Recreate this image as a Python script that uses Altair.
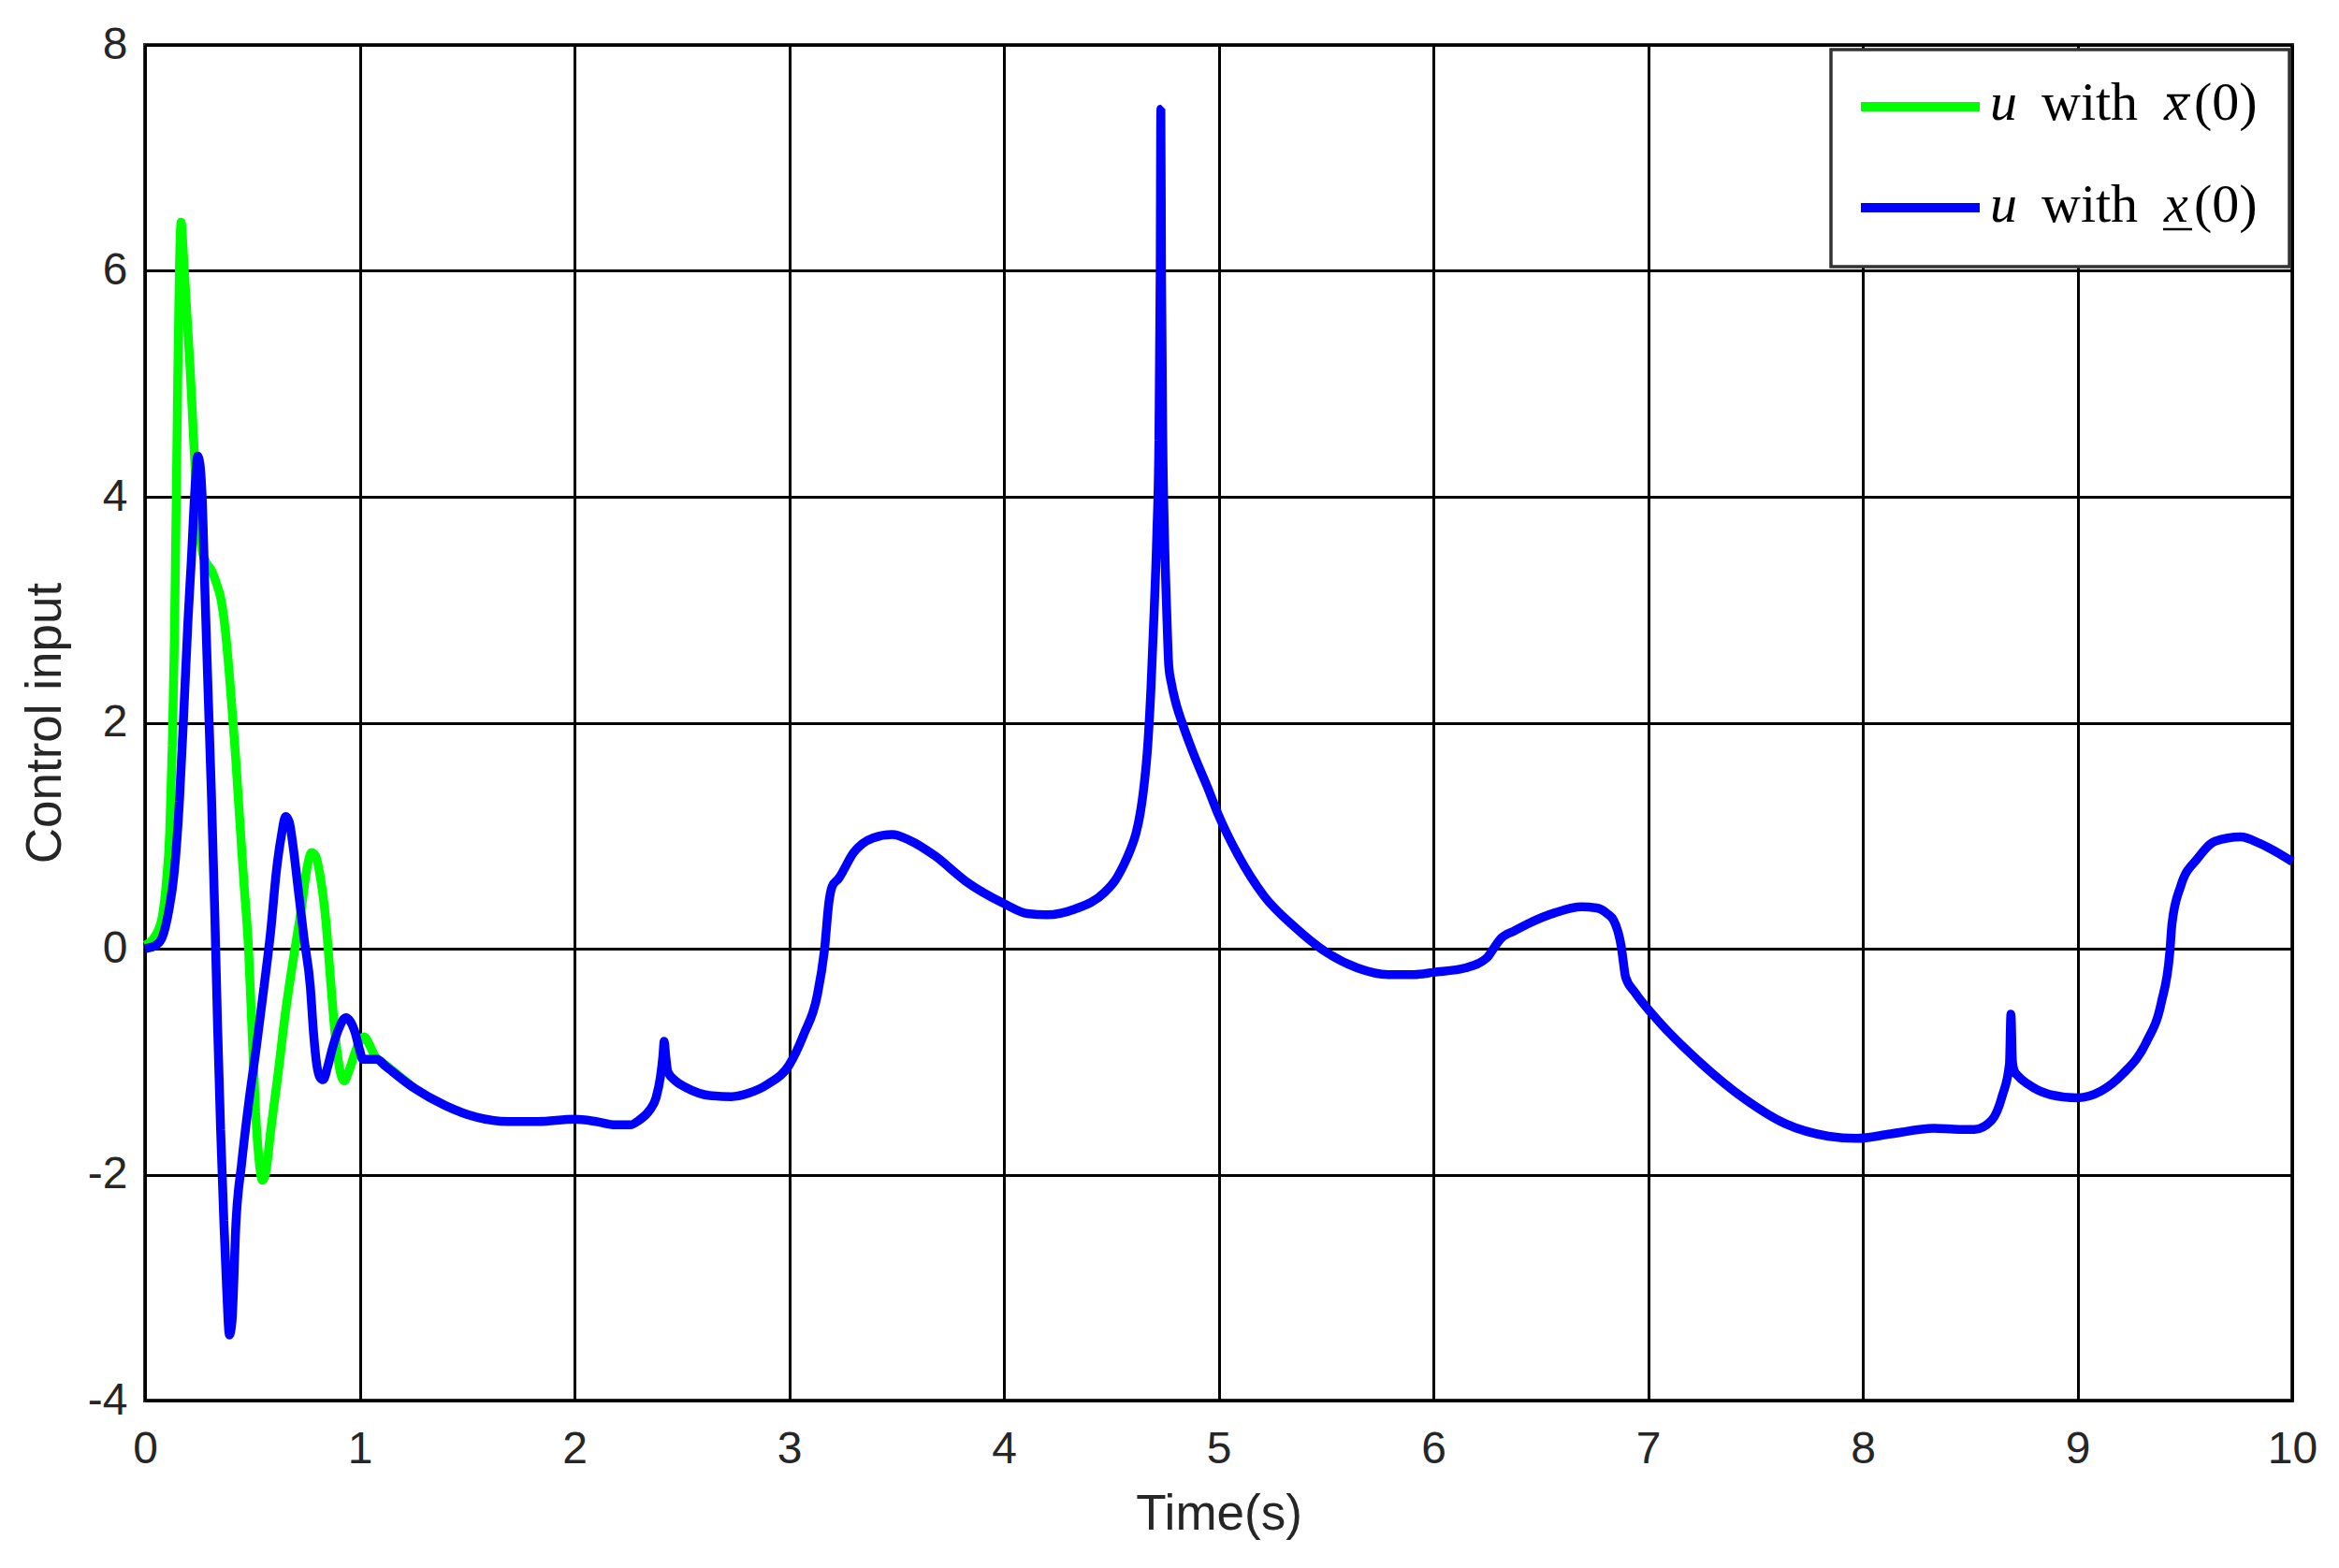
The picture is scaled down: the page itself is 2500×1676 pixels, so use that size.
import altair as alt
import pandas as pd

# ---- data ----
t_bar = [0.0, 0.05, 0.08, 0.10, 0.115, 0.127, 0.137, 0.145, 0.152, 0.16, 0.168, 0.18,
         0.209, 0.237, 0.266, 0.29, 0.309, 0.335, 0.353, 0.375, 0.396, 0.42, 0.439, 0.46,
         0.482, 0.50, 0.515, 0.53, 0.547, 0.565, 0.583, 0.62, 0.655, 0.69, 0.727, 0.755,
         0.775, 0.795, 0.815, 0.842, 0.865, 0.885, 0.905, 0.928, 0.95, 0.978, 1.0, 1.02,
         1.045, 1.07, 1.1, 1.14, 1.25]
u_bar = [0.03, 0.12, 0.28, 0.6, 1.03, 1.8, 2.76, 3.9, 5.0, 6.0, 6.43, 6.1,
         5.17, 4.14, 3.52, 3.4, 3.35, 3.22, 3.1, 2.8, 2.35, 1.75, 1.2, 0.6,
         0.0, -0.8, -1.45, -1.85, -2.05, -1.95, -1.65, -1.1, -0.55, -0.1, 0.34, 0.72,
         0.85, 0.82, 0.65, 0.25, -0.3, -0.75, -1.05, -1.17, -1.08, -0.92, -0.82, -0.78,
         -0.85, -0.95, -1.0, -1.06, -1.23]

t_under = [0.0, 0.05, 0.08, 0.11, 0.137, 0.16, 0.18, 0.2, 0.216, 0.232, 0.245, 0.255,
           0.266, 0.28, 0.295, 0.309, 0.325, 0.338, 0.352, 0.367, 0.38, 0.393, 0.405,
           0.424, 0.45, 0.482, 0.52, 0.554, 0.585, 0.612, 0.635, 0.655, 0.672, 0.69,
           0.712, 0.74, 0.77, 0.785, 0.80, 0.815, 0.83, 0.85, 0.87, 0.9, 0.935, 0.955,
           0.978, 1.0, 1.014, 1.05, 1.08, 1.12, 1.25, 1.40, 1.54, 1.69, 1.83, 2.0,
           2.1, 2.19, 2.26, 2.30, 2.35, 2.38, 2.40, 2.412, 2.418, 2.425, 2.435, 2.47,
           2.52, 2.63, 2.73, 2.81, 2.90, 3.0, 3.07, 3.13, 3.165, 3.185, 3.2, 3.23,
           3.30, 3.39, 3.48, 3.56, 3.68, 3.82, 4.0, 4.11, 4.2, 4.33, 4.47, 4.52,
           4.56, 4.59, 4.615, 4.635, 4.65, 4.67, 4.685, 4.700, 4.712, 4.722, 4.728,
           4.731, 4.734, 4.74, 4.748, 4.758, 4.768, 4.78, 4.80, 4.83, 4.88, 4.95, 5.0,
           5.09, 5.21, 5.355, 5.5, 5.645, 5.79, 5.91, 6.0, 6.15, 6.25, 6.28, 6.31,
           6.38, 6.44, 6.57, 6.69, 6.76, 6.81, 6.84, 6.86, 6.875, 6.885, 6.895, 6.94,
           7.02, 7.25, 7.45, 7.64, 7.84, 7.97, 8.13, 8.33, 8.45, 8.52, 8.6, 8.65,
           8.683, 8.690, 8.697, 8.705, 8.72, 8.77, 8.87, 9.0, 9.11, 9.21, 9.32, 9.39,
           9.43, 9.44, 9.48, 9.56, 9.64, 9.76, 9.85, 10.0]
u_under = [0.0, 0.03, 0.10, 0.33, 0.69, 1.3, 2.07, 2.9, 3.45, 4.05, 4.36, 4.3,
           4.0, 3.1, 2.2, 1.38, 0.3, -0.69, -1.6, -2.41, -3.0, -3.42, -3.3,
           -2.41, -1.9, -1.38, -0.85, -0.34, 0.15, 0.69, 1.0, 1.17, 1.12, 0.9,
           0.55, 0.1, -0.34, -0.75, -1.03, -1.14, -1.16, -1.05, -0.9, -0.72, -0.61, -0.64,
           -0.74, -0.9, -0.98, -0.98, -0.98, -1.04, -1.23, -1.39, -1.49, -1.53, -1.53, -1.51,
           -1.53, -1.56, -1.56, -1.52, -1.43, -1.32, -1.14, -0.95, -0.82, -0.95, -1.09, -1.17,
           -1.23, -1.30, -1.31, -1.28, -1.20, -1.03, -0.75, -0.42, 0.0, 0.41, 0.55, 0.62,
           0.85, 0.98, 1.01, 0.96, 0.82, 0.60, 0.40, 0.31, 0.30, 0.35, 0.50, 0.61,
           0.75, 0.88, 1.02, 1.2, 1.40, 1.80, 2.31, 3.0, 3.65, 4.5, 6.0,
           7.43, 6.0, 4.5, 3.65, 3.0, 2.5, 2.35, 2.18, 2.0, 1.74, 1.42, 1.18,
           0.83, 0.47, 0.19, -0.03, -0.17, -0.23, -0.23, -0.21, -0.17, -0.08, 0.0, 0.08,
           0.16, 0.22, 0.32, 0.37, 0.36, 0.31, 0.25, 0.15, 0.02, -0.12, -0.25, -0.39,
           -0.58, -1.02, -1.33, -1.55, -1.66, -1.68, -1.64, -1.59, -1.60, -1.6, -1.52, -1.30,
           -1.02, -0.58, -1.0, -1.08, -1.12, -1.2, -1.29, -1.32, -1.26, -1.11, -0.83, -0.48,
           -0.03, 0.22, 0.55, 0.80, 0.95, 0.99, 0.93, 0.77]

x_ticks = list(range(0, 11))
y_ticks = [-4, -2, 0, 2, 4, 6, 8]

df_bar = pd.DataFrame({"t": t_bar, "u": u_bar})
df_under = pd.DataFrame({"t": t_under, "u": u_under})
one = pd.DataFrame({"k": [0]})

SANS = "Liberation Sans, Arial, Helvetica, sans-serif"
SERIF = "Liberation Serif, Times New Roman, serif"

x_enc = alt.X(
    "t:Q",
    scale=alt.Scale(domain=[0, 10], nice=False, zero=False),
    axis=alt.Axis(
        values=x_ticks, labelExpr="datum.value + ''",
        labelFont=SANS, labelFontSize=48, labelColor="#262626", labelPadding=28,
        labelFlush=False, labelOverlap=False,
        title="Time(s)", titleFont=SANS, titleFontSize=53, titleFontWeight="normal",
        titleColor="#262626", titleY=121, titleBaseline="middle",
        grid=True, gridColor="#000000", gridWidth=3, gridOpacity=1,
        domain=False, ticks=False,
    ),
)
y_enc = alt.Y(
    "u:Q",
    scale=alt.Scale(domain=[-4, 8], nice=False, zero=False),
    axis=alt.Axis(
        values=y_ticks, labelExpr="datum.value + ''",
        labelFont=SANS, labelFontSize=48, labelColor="#262626", labelPadding=19,
        labelFlush=False, labelOverlap=False,
        title="Control input", titleFont=SANS, titleFontSize=53, titleFontWeight="normal",
        titleColor="#262626", titleX=-107, titleY=724.5, titleAngle=270,
        titleAlign="center", titleBaseline="middle",
        grid=True, gridColor="#000000", gridWidth=3, gridOpacity=1,
        domain=False, ticks=False,
    ),
)

green = alt.Chart(df_bar).mark_line(
    color="#00FF00", strokeWidth=9.5, interpolate="monotone", strokeJoin="bevel"
).encode(x=x_enc, y=y_enc)
blue = alt.Chart(df_under).mark_line(
    color="#0000FF", strokeWidth=9.5, interpolate="monotone", strokeJoin="bevel"
).encode(x=x_enc, y=y_enc)

# ---- legend drawn by hand (pixel positions inside the plot area) ----
leg_box = alt.Chart(one).mark_rect(fill="white", stroke="#333333", strokeWidth=3.5).encode(
    x=alt.value(1802), x2=alt.value(2292), y=alt.value(5), y2=alt.value(237)
)
leg_green = alt.Chart(one).mark_rule(color="#00FF00", strokeWidth=10).encode(
    x=alt.value(1834), x2=alt.value(1961), y=alt.value(66)
)
leg_blue = alt.Chart(one).mark_rule(color="#0000FF", strokeWidth=10).encode(
    x=alt.value(1834), x2=alt.value(1961), y=alt.value(174)
)


def txt(s, x, y, style="normal"):
    return alt.Chart(one).mark_text(
        text=s, font=SERIF, fontSize=58, fontStyle=style, align="left",
        baseline="alphabetic", color="#000000"
    ).encode(x=alt.value(x), y=alt.value(y))


row1, row2 = 80, 189
texts = [
    txt("u", 1972, row1, "italic"), txt("with", 2027, row1), txt("x", 2158, row1, "italic"),
    txt("(0)", 2190, row1),
    txt("u", 1972, row2, "italic"), txt("with", 2027, row2), txt("x", 2158, row2, "italic"),
    txt("(0)", 2190, row2),
]
overline = alt.Chart(one).mark_rule(color="#000000", strokeWidth=2.5).encode(
    x=alt.value(2161), x2=alt.value(2186), y=alt.value(54)
)
underline = alt.Chart(one).mark_rule(color="#000000", strokeWidth=2.5).encode(
    x=alt.value(2157), x2=alt.value(2188), y=alt.value(197)
)

chart = alt.layer(
    green, blue, leg_box, leg_green, leg_blue, *texts, overline, underline
).properties(
    width=2295, height=1449,
    autosize=alt.AutoSizeParams(type="none"),
    padding={"left": 147, "top": 40, "right": 42, "bottom": 171},
    background="white",
).configure_view(stroke="#333333", strokeWidth=4)

chart.save("out.html", embed_options={"renderer": "svg", "actions": False})
